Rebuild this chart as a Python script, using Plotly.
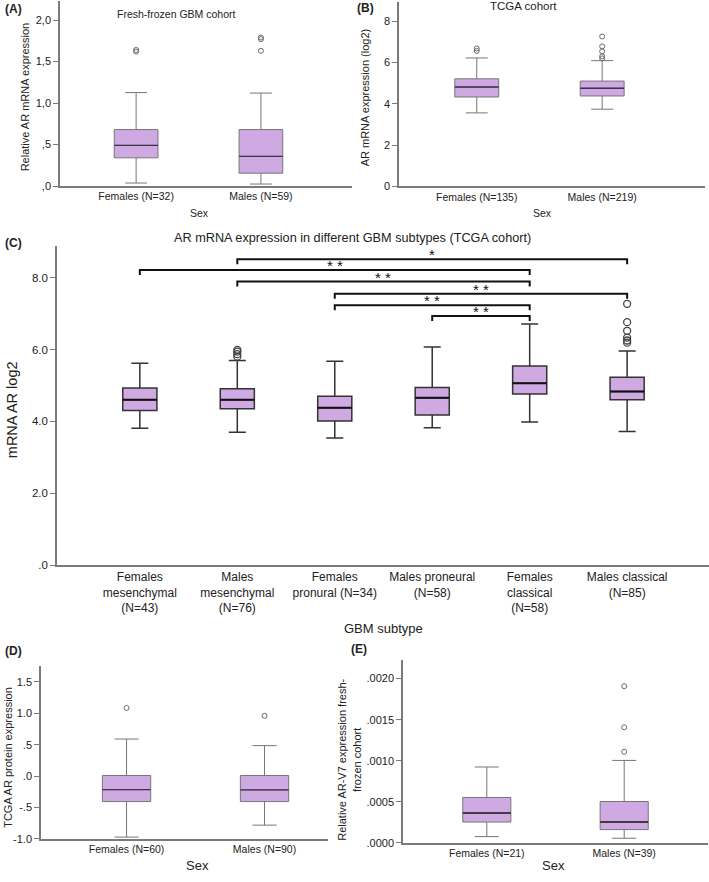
import plotly.graph_objects as go

W, H = 709, 882

# ---------------- data ----------------
# Panel A: Fresh-frozen GBM cohort
a_cats = ["Females (N=32)", "Males (N=59)"]
a_q1 = [0.34, 0.155]
a_med = [0.49, 0.357]
a_q3 = [0.68, 0.68]
a_lo = [0.036, 0.024]
a_hi = [1.126, 1.12]
a_out_x = ["Females (N=32)", "Females (N=32)", "Males (N=59)", "Males (N=59)", "Males (N=59)"]
a_out_y = [1.62, 1.64, 1.77, 1.79, 1.63]
a_ticks = [0, 0.5, 1.0, 1.5, 2.0]
a_ticktext = [",0", ",5", "1,0", "1,5", "2,0"]

# Panel B: TCGA cohort
b_cats = ["Females (N=135)", "Males (N=219)"]
b_q1 = [4.33, 4.38]
b_med = [4.81, 4.75]
b_q3 = [5.21, 5.10]
b_lo = [3.56, 3.74]
b_hi = [6.22, 6.09]
b_out_x = ["Females (N=135)", "Females (N=135)", "Males (N=219)", "Males (N=219)",
           "Males (N=219)", "Males (N=219)", "Males (N=219)"]
b_out_y = [6.56, 6.68, 7.26, 6.78, 6.54, 6.30, 6.20]
b_ticks = [0, 2, 4, 6, 8]
b_ticktext = ["0", "2", "4", "6", "8"]

# Panel C: GBM subtypes
c_cats = ["Females<br>mesenchymal<br>(N=43)", "Males<br>mesenchymal<br>(N=76)",
          "Females<br>pronural (N=34)", "Males proneural<br>(N=58)",
          "Females<br>classical<br>(N=58)", "Males classical<br>(N=85)"]
c_q1 = [4.30, 4.35, 4.01, 4.18, 4.76, 4.60]
c_med = [4.60, 4.60, 4.38, 4.66, 5.06, 4.83]
c_q3 = [4.93, 4.91, 4.70, 4.94, 5.54, 5.23]
c_lo = [3.81, 3.70, 3.54, 3.82, 3.98, 3.72]
c_hi = [5.62, 5.69, 5.67, 6.07, 6.71, 5.96]
c_out_idx = [1, 1, 1, 1, 5, 5, 5, 5, 5, 5]
c_out_y = [5.80, 5.87, 5.94, 5.99, 7.27, 6.76, 6.52, 6.33, 6.25, 6.19]
c_ticks = [0, 2, 4, 6, 8]
c_ticktext = [".0", "2.0", "4.0", "6.0", "8.0"]
# significance brackets: (from group, to group, height, label)
c_brk_from = [1, 0, 1, 2, 2, 3]
c_brk_to = [5, 4, 4, 5, 4, 4]
c_brk_h = [8.51, 8.21, 7.89, 7.55, 7.23, 6.93]
c_brk_lbl = ["*", "* *", "* *", "* *", "* *", "* *"]

# Panel D: TCGA AR protein
d_cats = ["Females (N=60)", "Males (N=90)"]
d_q1 = [-0.405, -0.405]
d_med = [-0.215, -0.22]
d_q3 = [0.01, 0.01]
d_lo = [-0.97, -0.78]
d_hi = [0.59, 0.485]
d_out_x = ["Females (N=60)", "Males (N=90)"]
d_out_y = [1.085, 0.96]
d_ticks = [-1.0, -0.5, 0.0, 0.5, 1.0, 1.5]
d_ticktext = ["-1.0", "-.5", ".0", ".5", "1.0", "1.5"]

# Panel E: AR-V7
e_cats = ["Females (N=21)", "Males (N=39)"]
e_q1 = [0.000254, 0.000162]
e_med = [0.000363, 0.000254]
e_q3 = [0.000553, 0.000504]
e_lo = [0.000077, 0.000057]
e_hi = [0.000924, 0.001004]
e_out_x = ["Males (N=39)", "Males (N=39)", "Males (N=39)"]
e_out_y = [0.001907, 0.001407, 0.001109]
e_ticks = [0, 0.0005, 0.0010, 0.0015, 0.0020]
e_ticktext = [".0000", ".0005", ".0010", ".0015", ".0020"]

# ---------------- style ----------------
FONT = "Liberation Sans, Arial, sans-serif"
NARROW = "Liberation Sans Narrow, Liberation Sans, Arial, sans-serif"
FILL = "#CFA9E2"
GRAYLINE = "#767676"
DARKLINE = "#333333"
AXCOL = "#7a7a7a"


def fx(px):
    return px / W


def fy(py):
    return 1 - py / H


fig = go.Figure()


def add_box(cats, q1, med, q3, lo, hi, ax, lc, lw, medc, medw):
    fig.add_trace(go.Box(
        x=cats, q1=q1, median=med, q3=q3, lowerfence=lo, upperfence=hi,
        fillcolor=FILL, line=dict(color=lc, width=lw), whiskerwidth=0.5,
        boxpoints=False, xaxis="x" + ax, yaxis="y" + ax, showlegend=False,
        hoverinfo="skip"))
    # darker median line drawn on top (degenerate box at the median)
    fig.add_trace(go.Box(
        x=cats, q1=med, median=med, q3=med, lowerfence=med, upperfence=med,
        fillcolor="rgba(0,0,0,0)", line=dict(color=medc, width=medw), whiskerwidth=0,
        boxpoints=False, xaxis="x" + ax, yaxis="y" + ax, showlegend=False,
        hoverinfo="skip"))


def add_out(xs, ys, ax, size, col, lw):
    fig.add_trace(go.Scatter(
        x=xs, y=ys, mode="markers", xaxis="x" + ax, yaxis="y" + ax,
        marker=dict(symbol="circle-open", size=size, color=col, line=dict(width=lw, color=col)),
        showlegend=False, hoverinfo="skip"))


MEDC = "#3f3347"
add_box(a_cats, a_q1, a_med, a_q3, a_lo, a_hi, "", GRAYLINE, 1, MEDC, 1.2)
add_out(a_out_x, a_out_y, "", 5, "#6a6a6a", 1)
add_box(b_cats, b_q1, b_med, b_q3, b_lo, b_hi, "2", GRAYLINE, 1, MEDC, 1.5)
add_out(b_out_x, b_out_y, "2", 5, "#6a6a6a", 1)
add_box(c_cats, c_q1, c_med, c_q3, c_lo, c_hi, "3", DARKLINE, 1.5, "#111111", 2)
add_out([c_cats[i] for i in c_out_idx], c_out_y, "3", 7, "#444444", 1.3)
add_box(d_cats, d_q1, d_med, d_q3, d_lo, d_hi, "4", GRAYLINE, 1, MEDC, 1.3)
add_out(d_out_x, d_out_y, "4", 5, "#6a6a6a", 1)
add_box(e_cats, e_q1, e_med, e_q3, e_lo, e_hi, "5", GRAYLINE, 1, "#222222", 1.5)
add_out(e_out_x, e_out_y, "5", 5, "#6a6a6a", 1)


def xax(px0, px1, rng, font, size):
    return dict(domain=[fx(px0), fx(px1)], type="category", range=rng,
                showgrid=False, zeroline=False, showline=True, linecolor=AXCOL,
                linewidth=1.5, ticks="", tickfont=dict(family=font, size=size, color="#222"),
                fixedrange=True)


def yax(py0, py1, rng, tv, tt, font, size, anchor):
    return dict(domain=[fy(py1), fy(py0)], range=rng, tickvals=tv, ticktext=tt,
                showgrid=False, zeroline=False, showline=True, linecolor=AXCOL,
                linewidth=1.5, ticks="outside", ticklen=5, tickcolor=AXCOL,
                tickfont=dict(family=font, size=size, color="#222"), anchor=anchor,
                fixedrange=True)


layout = dict(
    width=W, height=H, margin=dict(l=0, r=0, t=0, b=0),
    paper_bgcolor="white", plot_bgcolor="white", boxgap=0.5, boxmode="overlay",
    xaxis=xax(60, 352, [-0.61, 1.73], FONT, 10.5),
    yaxis=yax(1, 187.3, [0, 2.23], a_ticks, a_ticktext, FONT, 11, "x"),
    xaxis2=xax(399, 705, [-0.62, 1.82], FONT, 10.5),
    yaxis2=yax(2, 187.7, [0, 8.93], b_ticks, b_ticktext, FONT, 11, "x2"),
    xaxis3=xax(57, 709, [-0.85, 5.84], NARROW, 12),
    yaxis3=yax(248, 569, [0, 8.87], c_ticks, c_ticktext, NARROW, 11.5, "x3"),
    xaxis4=xax(41, 328, [-0.62, 1.46], FONT, 10.5),
    yaxis4=yax(670.7, 844.7, [-1.0, 1.75], d_ticks, d_ticktext, FONT, 11, "x4"),
    xaxis5=xax(403, 708, [-0.61, 1.61], FONT, 10.5),
    yaxis5=yax(665, 848.7, [0, 0.00222], e_ticks, e_ticktext, FONT, 11, "x5"),
)
for k in ["xaxis", "xaxis2", "xaxis3", "xaxis4", "xaxis5"]:
    n = k[5:]
    layout[k]["anchor"] = "y" + n
fig.update_layout(**layout)

ann = []


def txt(text, px, py, size, font=FONT, angle=0, bold=False, xanchor="center"):
    t = "<b>" + text + "</b>" if bold else text
    ann.append(dict(text=t, x=fx(px), y=fy(py), xref="paper", yref="paper",
                    showarrow=False, font=dict(family=font, size=size, color="#222"),
                    textangle=angle, xanchor=xanchor, yanchor="middle"))


# panel labels
txt("(A)", 3, 9, 12, bold=True, xanchor="left")
txt("(B)", 355, 8, 12, bold=True, xanchor="left")
txt("(C)", 3, 245, 12, bold=True, xanchor="left")
txt("(D)", 3, 655, 12, bold=True, xanchor="left")
txt("(E)", 349, 653, 12, bold=True, xanchor="left")
# titles
txt("Fresh-frozen GBM cohort", 176, 14, 10.5)
txt("TCGA cohort", 523, 6, 11.5)
txt("AR mRNA expression in different GBM subtypes (TCGA cohort)", 352, 240, 12.7, font=NARROW)
# axis titles
txt("Relative AR mRNA expression", 25, 98, 11, angle=-90)
txt("Sex", 199, 214, 10.5)
txt("AR mRNA expression (log2)", 365, 98, 11, angle=-90)
txt("Sex", 542, 214, 10.5)
txt("mRNA AR log2", 12, 413, 14.5, font=NARROW, angle=-90)
txt("GBM subtype", 383, 633, 13, font=NARROW)
txt("TCGA AR protein expression", 8, 763, 11, angle=-90)
txt("Sex", 197, 871, 13)
txt("Relative AR-V7 expression fresh-<br>frozen cohort", 349, 765, 11, angle=-90)
txt("Sex", 553, 871, 13)

# significance brackets for panel C
shapes = []
for f, t, h, lbl in zip(c_brk_from, c_brk_to, c_brk_h, c_brk_lbl):
    drop = 0.14
    shapes.append(dict(type="path", xref="x3", yref="y3",
                       path=f"M {f},{h - drop} L {f},{h} L {t},{h} L {t},{h - drop}",
                       line=dict(color="#111", width=2)))
    ann.append(dict(text=lbl, x=(f + t) / 2, y=h, xref="x3", yref="y3",
                    showarrow=False, yanchor="bottom", yshift=-6,
                    font=dict(family=FONT, size=15, color="#111")))

fig.update_layout(annotations=ann, shapes=shapes)
POST = ("document.documentElement.style.margin='0px';"
        "document.body.style.margin='0px';"
        "document.documentElement.style.overflow='hidden';"
        "document.body.style.overflow='hidden';")
fig.write_html("out.html", config={"displayModeBar": False}, post_script=POST)
